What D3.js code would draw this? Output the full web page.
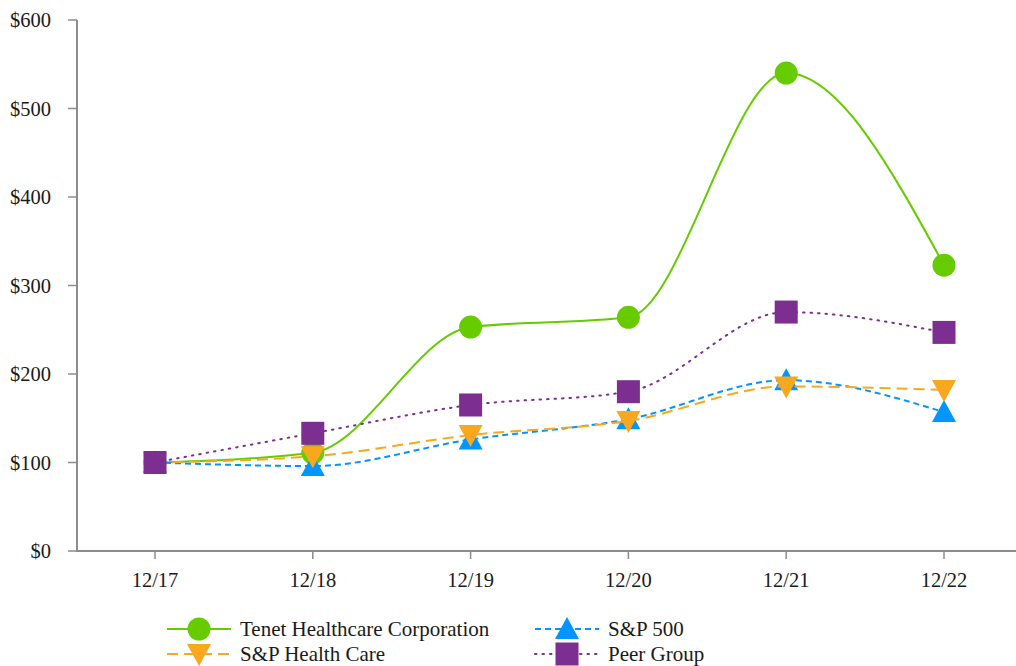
<!DOCTYPE html>
<html>
<head>
<meta charset="utf-8">
<script src="https://cdn.jsdelivr.net/npm/d3@7"></script>
<style>
  body { margin: 0; background: #fff; }
</style>
</head>
<body>
<svg id="chart"></svg>
<script>
// Data
var periods = ["12/17", "12/18", "12/19", "12/20", "12/21", "12/22"];
var tenet = [100, 111, 253, 264, 540, 323];
var sp500 = [100, 96, 126, 149, 193, 157];
var spHealth = [100, 107, 131, 147, 186, 182];
var peerGroup = [100, 133, 165, 180, 270, 247];
var yTicks = [0, 100, 200, 300, 400, 500, 600];

var width = 1016, height = 666;
var fontName = "Liberation Serif";
var svg = d3.select("#chart").attr("width", width).attr("height", height)
    .attr("font-family", fontName);

var x = d3.scalePoint().domain(periods).range([155, 944]);
var y = d3.scaleLinear().domain([0, 600]).range([551, 20]);

var axisColor = "#8c8c8c";

// y axis
svg.append("line")
    .attr("x1", 77).attr("x2", 77)
    .attr("y1", y(600)).attr("y2", y(0))
    .attr("stroke", axisColor).attr("stroke-width", 2);
var yg = svg.append("g");
yg.selectAll("line").data(yTicks).enter().append("line")
    .attr("x1", 68).attr("x2", 77)
    .attr("y1", function (d) { return y(d); })
    .attr("y2", function (d) { return y(d); })
    .attr("stroke", axisColor).attr("stroke-width", 1.5);
yg.selectAll("text").data(yTicks).enter().append("text")
    .attr("x", 51)
    .attr("y", function (d) { return y(d); })
    .attr("dy", "0.35em")
    .attr("text-anchor", "end")
    .attr("font-family", fontName)
    .attr("font-size", 20.5)
    .attr("fill", "#1a1a1a")
    .text(function (d) { return "$" + d; });

// x axis
svg.append("line")
    .attr("x1", 76).attr("x2", width)
    .attr("y1", y(0)).attr("y2", y(0))
    .attr("stroke", axisColor).attr("stroke-width", 2);
var xg = svg.append("g");
xg.selectAll("line").data(periods).enter().append("line")
    .attr("x1", function (d) { return x(d); })
    .attr("x2", function (d) { return x(d); })
    .attr("y1", y(0)).attr("y2", y(0) + 8)
    .attr("stroke", axisColor).attr("stroke-width", 1.5);
xg.selectAll("text").data(periods).enter().append("text")
    .attr("x", function (d) { return x(d); })
    .attr("y", 587)
    .attr("text-anchor", "middle")
    .attr("font-family", fontName)
    .attr("font-size", 20.5)
    .attr("fill", "#1a1a1a")
    .text(function (d) { return d; });

var series = [
    { name: "Tenet Healthcare Corporation", values: tenet, color: "#66cc00", dash: null, marker: "circle" },
    { name: "S&P 500", values: sp500, color: "#0095ff", dash: "6,4", marker: "up" },
    { name: "S&P Health Care", values: spHealth, color: "#f9a81e", dash: "11,6", marker: "down" },
    { name: "Peer Group", values: peerGroup, color: "#7d2f91", dash: "1.5,6", marker: "square" }
];

var line = d3.line()
    .x(function (d, i) { return x(periods[i]); })
    .y(function (d) { return y(d); })
    .curve(d3.curveMonotoneX);

function drawMarker(g, type, cx, cy, color) {
    if (type === "circle") {
        g.append("circle").attr("cx", cx).attr("cy", cy).attr("r", 11.5).attr("fill", color);
    } else if (type === "square") {
        g.append("rect").attr("x", cx - 11.5).attr("y", cy - 11.5)
            .attr("width", 23).attr("height", 23).attr("fill", color);
    } else if (type === "up") {
        g.append("path").attr("d", "M" + cx + "," + (cy - 12) + "L" + (cx + 12) + "," + (cy + 10) + "L" + (cx - 12) + "," + (cy + 10) + "Z")
            .attr("fill", color);
    } else {
        g.append("path").attr("d", "M" + cx + "," + (cy + 12) + "L" + (cx + 12) + "," + (cy - 10) + "L" + (cx - 12) + "," + (cy - 10) + "Z")
            .attr("fill", color);
    }
}

series.forEach(function (s) {
    var g = svg.append("g");
    g.append("path")
        .datum(s.values)
        .attr("d", line)
        .attr("fill", "none")
        .attr("stroke", s.color)
        .attr("stroke-width", 2)
        .attr("stroke-linecap", s.marker === "square" ? "round" : "butt")
        .attr("stroke-dasharray", s.dash);
    s.values.forEach(function (v, i) {
        drawMarker(g, s.marker, x(periods[i]), y(v), s.color);
    });
});

// legend
var legendPos = [
    { s: series[0], lx: 167, ly: 629 },
    { s: series[2], lx: 167, ly: 654 },
    { s: series[1], lx: 535, ly: 629 },
    { s: series[3], lx: 535, ly: 654 }
];
legendPos.forEach(function (p) {
    var g = svg.append("g");
    g.append("line")
        .attr("x1", p.lx).attr("x2", p.lx + 64)
        .attr("y1", p.ly).attr("y2", p.ly)
        .attr("stroke", p.s.color).attr("stroke-width", 2)
        .attr("stroke-linecap", p.s.marker === "square" ? "round" : "butt")
        .attr("stroke-dasharray", p.s.dash);
    drawMarker(g, p.s.marker, p.lx + 32, p.ly, p.s.color);
    g.append("text")
        .attr("x", p.lx + 73).attr("y", p.ly)
        .attr("dy", "0.33em")
        .attr("font-family", fontName)
        .attr("font-size", 21)
        .attr("fill", "#1a1a1a")
        .text(p.s.name);
});
</script>
</body>
</html>
